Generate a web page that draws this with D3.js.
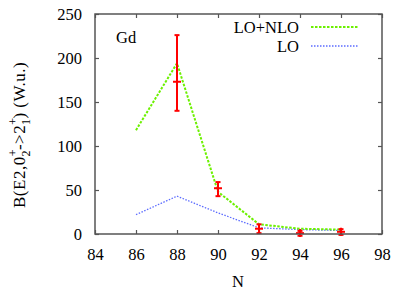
<!DOCTYPE html>
<html><head><meta charset="utf-8">
<script src="https://cdn.jsdelivr.net/npm/d3@7"></script>
<style>
body{margin:0;background:#fff}svg{display:block}
svg text{font-family:'Liberation Serif','Times New Roman',Times,'DejaVu Serif',serif !important;}
</style>
</head><body>
<svg id="c" width="398" height="302"></svg>
<script>
const N = [86, 88, 90, 92, 94, 96];
const loNlo = [118, 194, 48, 11, 6, 5];
const lo = [22, 43, 24, 7, 5, 4];
const expN = [88, 90, 92, 94, 96];
const expVal = [173, 52, 6, 1, 2.5];
const expLow = [140, 43, 1, -2, -1];
const expHigh = [226, 59, 11, 3.5, 5.5];
const xTicks = [84, 86, 88, 90, 92, 94, 96, 98];
const yTicks = [0, 50, 100, 150, 200, 250];

const svg = d3.select("#c");
const L = 95, R = 382, T = 14, B = 234;
const x = d3.scaleLinear().domain([84, 98]).range([L, R]);
const y = d3.scaleLinear().domain([0, 250]).range([B, T]);
const frame = "#555";

const tk = 4;
const axB = d3.axisBottom(x).tickValues(xTicks).tickSize(-tk).tickSizeOuter(0).tickPadding(14);
const axT = d3.axisTop(x).tickValues(xTicks).tickSize(-tk).tickSizeOuter(0).tickFormat("");
const axL = d3.axisLeft(y).tickValues(yTicks).tickSize(-tk).tickSizeOuter(0).tickPadding(13);
const axR = d3.axisRight(y).tickValues(yTicks).tickSize(-tk).tickSizeOuter(0).tickFormat("");
function style(g){
  g.attr("font-size", 16.5);
  g.select(".domain").remove();
  g.selectAll(".tick line").attr("stroke", frame).attr("stroke-width", 1.2);
  g.selectAll(".tick text").attr("fill", "#000");
}
svg.append("g").attr("transform", `translate(0,${B})`).call(axB).call(style);
svg.append("g").attr("transform", `translate(0,${T})`).call(axT).call(style);
svg.append("g").attr("transform", `translate(${L},0)`).call(axL).call(style);
svg.append("g").attr("transform", `translate(${R},0)`).call(axR).call(style);

const line = (vals) => d3.line().x((d, i) => x(N[i])).y(d => y(d))(vals);
svg.append("path").attr("d", line(lo)).attr("fill", "none")
  .attr("stroke", "#5c6cff").attr("stroke-width", 1.3).attr("stroke-dasharray", "1.5,1.5");
svg.append("path").attr("d", line(loNlo)).attr("fill", "none")
  .attr("stroke", "#6cf000").attr("stroke-width", 2).attr("stroke-dasharray", "2.5,1.5");

const red = "#ff0000";
const eg = svg.append("g").attr("stroke", red).attr("stroke-width", 2).attr("fill", "none");
expN.forEach((n, i) => {
  const cx = x(n);
  eg.append("line").attr("x1", cx).attr("x2", cx).attr("y1", y(expLow[i])).attr("y2", y(expHigh[i]));
  eg.append("line").attr("x1", cx - 2.5).attr("x2", cx + 2.5).attr("y1", y(expLow[i])).attr("y2", y(expLow[i]));
  eg.append("line").attr("x1", cx - 2.5).attr("x2", cx + 2.5).attr("y1", y(expHigh[i])).attr("y2", y(expHigh[i]));
  eg.append("line").attr("x1", cx - 4).attr("x2", cx + 4).attr("y1", y(expVal[i])).attr("y2", y(expVal[i]));
  eg.append("line").attr("x1", cx).attr("x2", cx).attr("y1", y(expVal[i]) - 4).attr("y2", y(expVal[i]) + 4);
});

svg.append("rect").attr("x", L).attr("y", T).attr("width", R - L).attr("height", B - T)
  .attr("fill", "none").attr("stroke", frame).attr("stroke-width", 1.5);

const txt = (xx, yy, s, anchor) => svg.append("text").attr("x", xx).attr("y", yy)
  .attr("text-anchor", anchor || "start").attr("font-size", 16.5).text(s);
txt(299, 33, "LO+NLO", "end");
txt(299, 52, "LO", "end");
svg.append("line").attr("x1", 311).attr("x2", 359).attr("y1", 27).attr("y2", 27)
  .attr("stroke", "#6cf000").attr("stroke-width", 2).attr("stroke-dasharray", "2.5,1.5");
svg.append("line").attr("x1", 311).attr("x2", 359).attr("y1", 46).attr("y2", 46)
  .attr("stroke", "#5c6cff").attr("stroke-width", 1.3).attr("stroke-dasharray", "1.5,1.5");
txt(116, 43, "Gd");
txt(238, 287, "N", "middle");

const yl = svg.append("text").attr("transform", "translate(25,208) rotate(-90)")
  .attr("text-anchor", "start").attr("font-size", 17).attr("letter-spacing", 0.5);
yl.append("tspan").text("B(E2,0");
yl.append("tspan").attr("font-size", 12).attr("dy", -8).text("+");
yl.append("tspan").attr("font-size", 12).attr("dx", -7.5).attr("dy", 13).text("2");
yl.append("tspan").attr("dy", -5).text("->2");
yl.append("tspan").attr("font-size", 12).attr("dy", -8).text("+");
yl.append("tspan").attr("font-size", 12).attr("dx", -7.5).attr("dy", 13).text("1");
yl.append("tspan").attr("dy", -5).text(") (W.u.)");
</script>
</body></html>
